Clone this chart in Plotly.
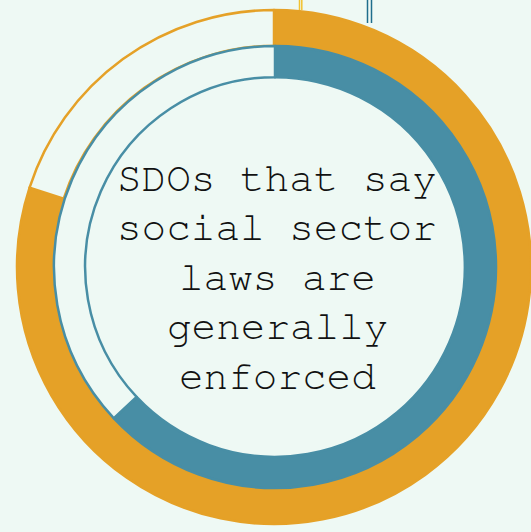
import plotly.graph_objects as go

# Data
outer_labels = ["Generally enforced", "Other"]
outer_values = [80, 20]
inner_labels = ["Generally enforced", "Other"]
inner_values = [63, 37]
center_lines = ["SDOs that say", "social sector", "laws are", "generally", "enforced"]

W, H = 531, 532
BG = "#EEF9F4"
ORANGE = "#E5A127"
BLUE = "#488EA5"

cx, cy_top = 275, 267
cy = H - cy_top

def dom(r):
    return dict(x=[max(0, (cx - r) / W), min(1, (cx + r) / W)],
                y=[max(0, (cy - r) / H), min(1, (cy + r) / H)])

fig = go.Figure()
fig.add_trace(go.Pie(
    labels=outer_labels, values=outer_values, sort=False, direction="clockwise",
    rotation=0, hole=222 / 258, domain=dom(258), textinfo="none", hoverinfo="skip",
    marker=dict(colors=[ORANGE, BG], line=dict(color=[ORANGE, ORANGE], width=2.5)),
    showlegend=False,
))
fig.add_trace(go.Pie(
    labels=inner_labels, values=inner_values, sort=False, direction="clockwise",
    rotation=0, hole=189 / 220, domain=dom(221), textinfo="none", hoverinfo="skip",
    marker=dict(colors=[BLUE, BG], line=dict(color=[BLUE, BLUE], width=2.5)),
    showlegend=False,
))

fs = 41
first_center = 178
spacing = 49.5
for i, line in enumerate(center_lines):
    fig.add_annotation(
        text=line, x=277 / W, xref="paper", yref="paper",
        y=(H - (first_center + i * spacing)) / H, xanchor="center", yanchor="middle",
        showarrow=False,
        font=dict(family="Nimbus Mono PS, FreeMono, Courier New, Courier, Liberation Mono, monospace",
                  size=fs, color="#111111"),
    )

# leader line stubs at top
for x0, col, y1 in [(299.5, "#F2C230", 10), (301.8, "#F2C230", 10),
                    (367.5, "#1F6E8C", 23), (371.5, "#1F6E8C", 23)]:
    fig.add_shape(type="line", xref="paper", yref="paper",
                  x0=x0 / W, x1=x0 / W, y0=1, y1=(H - y1) / H,
                  line=dict(color=col, width=1.5), layer="below")

fig.update_layout(
    width=W, height=H, margin=dict(l=0, r=0, t=0, b=0),
    paper_bgcolor=BG, plot_bgcolor=BG, showlegend=False,
)
fig.write_html(
    "out.html",
    config={"displayModeBar": False},
    post_script="document.body.style.margin='0';document.body.style.background='#EEF9F4';",
)
